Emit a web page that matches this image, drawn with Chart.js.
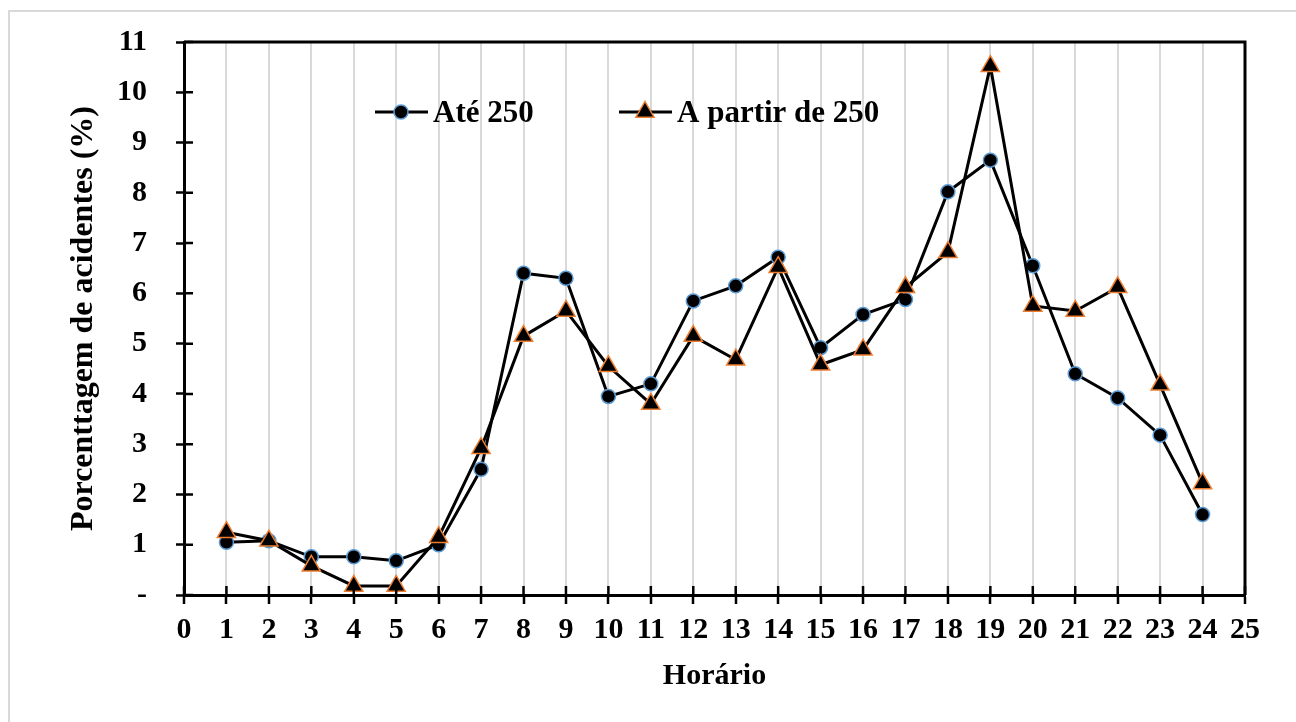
<!DOCTYPE html>
<html>
<head>
<meta charset="utf-8">
<script src="https://cdn.jsdelivr.net/npm/chart.js@4/dist/chart.umd.min.js"></script>
<style>
    html, body { margin: 0; padding: 0; background: #fff; overflow: hidden; }
    #frame { position: absolute; left: 8px; top: 10px; width: 1400px; height: 800px; border: 2px solid #d9d9d9; }
    #wrap { position: absolute; left: 0; top: 0; width: 1296px; height: 722px; }
</style>
</head>
<body>
<div id="frame"></div>
<div id="wrap"><canvas id="chart"></canvas></div>
<script>
const horas = [1, 2, 3, 4, 5, 6, 7, 8, 9, 10, 11, 12, 13, 14, 15, 16, 17, 18, 19, 20, 21, 22, 23, 24]
const ate250 = [1.05, 1.08, 0.76, 0.76, 0.68, 1.0, 2.5, 6.4, 6.3, 3.95, 4.2, 5.85, 6.15, 6.72, 4.92, 5.58, 5.88, 8.02, 8.65, 6.55, 4.4, 3.92, 3.18, 1.6]
const aPartir250 = [1.25, 1.08, 0.58, 0.18, 0.18, 1.15, 2.92, 5.15, 5.65, 4.55, 3.8, 5.15, 4.68, 6.52, 4.58, 4.88, 6.12, 6.82, 10.52, 5.75, 5.65, 6.12, 4.18, 2.22]
const labels = ['Até 250', 'A partir de 250']

const fontFam = '"Liberation Serif", "Times New Roman", serif'

// frame on top/right and inner half of the tick marks
const framePlugin = {
    id: 'frame',
    afterDatasetsDraw(chart) {
        const { ctx, chartArea: a, scales } = chart
        ctx.save()
        ctx.strokeStyle = '#000'
        ctx.lineWidth = 3
        ctx.beginPath()
        ctx.moveTo(a.left, a.top)
        ctx.lineTo(a.right, a.top)
        ctx.lineTo(a.right, a.bottom)
        ctx.stroke()
        ctx.lineWidth = 2.5
        ctx.beginPath()
        scales.x.ticks.forEach(t => {
            const px = scales.x.getPixelForValue(t.value)
            ctx.moveTo(px, a.bottom)
            ctx.lineTo(px, a.bottom - 9)
        })
        scales.y.ticks.forEach(t => {
            const py = scales.y.getPixelForValue(t.value)
            ctx.moveTo(a.left, py)
            ctx.lineTo(a.left + 9, py)
        })
        ctx.stroke()
        ctx.restore()
    }
}

// legend drawn inside the plot area
const legendPlugin = {
    id: 'innerLegend',
    afterDraw(chart) {
        const { ctx } = chart
        const items = [{ x: 375 }, { x: 619 }]
        const y = 112
        ctx.save()
        ctx.font = 'bold 31px ' + fontFam
        ctx.textBaseline = 'middle'
        chart.data.datasets.forEach((ds, i) => {
            const x0 = items[i].x
            ctx.strokeStyle = '#000'
            ctx.lineWidth = 3
            ctx.beginPath()
            ctx.moveTo(x0, y)
            ctx.lineTo(x0 + 53, y)
            ctx.stroke()
            const cx = x0 + 26
            ctx.fillStyle = '#000'
            ctx.strokeStyle = ds.pointBorderColor
            ctx.lineWidth = ds.pointBorderWidth
            ctx.beginPath()
            if (ds.pointStyle === 'triangle') {
                const r = ds.pointRadius
                ctx.moveTo(cx, y - r)
                ctx.lineTo(cx + r * 0.866, y + r * 0.5)
                ctx.lineTo(cx - r * 0.866, y + r * 0.5)
                ctx.closePath()
            } else {
                ctx.arc(cx, y, ds.pointRadius, 0, Math.PI * 2)
            }
            ctx.fill()
            ctx.stroke()
            ctx.fillStyle = '#000'
            ctx.fillText(ds.label, x0 + 58, y + 2)
        })
        ctx.restore()
    }
}

new Chart(document.getElementById('chart'), {
    type: 'line',
    data: {
        datasets: [{
            label: labels[0],
            data: horas.map((h, i) => ({ x: h, y: ate250[i] })),
            borderColor: '#000',
            borderWidth: 3,
            pointStyle: 'circle',
            pointRadius: 7,
            pointBackgroundColor: '#000',
            pointBorderColor: '#5b9bd5',
            pointBorderWidth: 1.5,
            order: 1
        }, {
            label: labels[1],
            data: horas.map((h, i) => ({ x: h, y: aPartir250[i] })),
            borderColor: '#000',
            borderWidth: 3,
            pointStyle: 'triangle',
            pointRadius: 10.5,
            pointBackgroundColor: '#000',
            pointBorderColor: '#ed7d31',
            pointBorderWidth: 1.5,
            order: 0
        }]
    },
    options: {
        responsive: true,
        maintainAspectRatio: false,
        animation: false,
        layout: { padding: { left: 60, right: 51, top: 42, bottom: 28 } },
        plugins: {
            legend: { display: false },
            tooltip: { enabled: false }
        },
        scales: {
            x: {
                type: 'linear',
                min: 0,
                max: 25,
                afterFit: (s) => { s.height = 99 },
                ticks: {
                    stepSize: 1,
                    color: '#000',
                    padding: 8,
                    font: { family: fontFam, size: 30, weight: 'bold' }
                },
                grid: {
                    color: '#d9d9d9',
                    lineWidth: 2,
                    tickColor: '#000',
                    tickLength: 9,
                    tickWidth: 2.5
                },
                border: { color: '#000', width: 3 },
                title: {
                    display: true,
                    text: 'Horário',
                    color: '#000',
                    padding: 0,
                    font: { family: fontFam, size: 30, weight: 'bold' }
                }
            },
            y: {
                min: 0,
                max: 11,
                afterFit: (s) => { s.width = 124; s.paddingTop = 0; s.paddingBottom = 0 },
                ticks: {
                    stepSize: 1,
                    color: '#000',
                    padding: 29,
                    font: { family: fontFam, size: 30, weight: 'bold', lineHeight: 1 },
                    callback: (v) => v === 0 ? '-' : v
                },
                grid: {
                    drawOnChartArea: false,
                    tickColor: '#000',
                    tickLength: 8,
                    tickWidth: 2.5
                },
                border: { color: '#000', width: 3 },
                title: {
                    display: true,
                    text: 'Porcenttagem de acidentes (%)',
                    color: '#000',
                    padding: { top: 5, bottom: 0 },
                    font: { family: fontFam, size: 32, weight: 'bold' }
                }
            }
        }
    },
    plugins: [framePlugin, legendPlugin]
})
</script>
</body>
</html>
